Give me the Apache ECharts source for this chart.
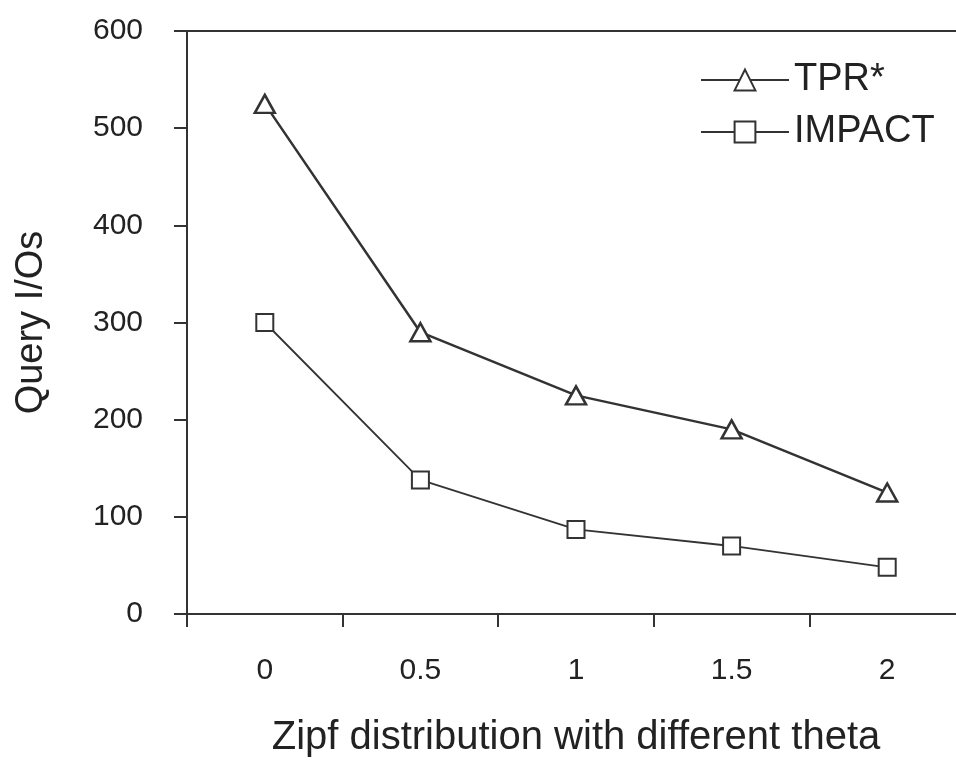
<!DOCTYPE html>
<html>
<head>
<meta charset="utf-8">
<script src="https://cdn.jsdelivr.net/npm/echarts@6/dist/echarts.min.js"></script>
<style>
  html, body { margin: 0; padding: 0; background: #fff; overflow: hidden; }
  /* container a bit wider than the window: the plot's right edge runs off the page */
  #main { width: 970px; height: 763px; }
</style>
</head>
<body>
<div id="main"></div>
<script>
var thetaList = ['0', '0.5', '1', '1.5', '2'];
var tprValues = [525, 290, 225, 190, 125];
var impactValues = [300, 138, 87, 70, 48];
var yTicks = [0, 100, 200, 300, 400, 500, 600];

var ink = '#333';
var font = 'Liberation Sans, Arial, sans-serif';

echarts.init(document.getElementById('main')).setOption({
    animation: false,
    backgroundColor: '#fff',
    textStyle: { fontFamily: font, color: '#222' },
    grid: {
        left: 187, top: 31, bottom: 145, right: 5,
        show: true, borderColor: ink, borderWidth: 2
    },
    legend: {
        left: 695, top: 55,
        orient: 'vertical',
        itemWidth: 88, itemHeight: 26, itemGap: 12,
        textStyle: { fontSize: 38, color: '#222', fontFamily: font, lineHeight: 40 },
        data: ['TPR*', 'IMPACT']
    },
    xAxis: {
        type: 'category',
        data: thetaList,
        boundaryGap: true,
        name: 'Zipf distribution with different theta',
        nameLocation: 'middle',
        nameGap: 104,
        nameTextStyle: { fontSize: 40, color: '#222', fontFamily: font },
        axisLine: { lineStyle: { color: ink, width: 2 } },
        axisTick: { show: true, length: 13, inside: false, lineStyle: { color: ink, width: 2 } },
        axisLabel: { fontSize: 30, color: '#222', margin: 42, fontFamily: font },
        splitLine: { show: false }
    },
    yAxis: {
        type: 'value',
        min: yTicks[0], max: yTicks[yTicks.length - 1], interval: 100,
        name: 'Query I/Os',
        nameLocation: 'middle',
        nameGap: 136,
        nameTextStyle: { fontSize: 38, color: '#222', fontFamily: font },
        axisLine: { show: true, lineStyle: { color: ink, width: 2 } },
        axisTick: { show: true, length: 13, lineStyle: { color: ink, width: 2 } },
        axisLabel: { fontSize: 30, color: '#222', margin: 44, fontFamily: font, padding: [0, 0, 8, 0] },
        splitLine: { show: false }
    },
    series: [
        {
            name: 'TPR*',
            type: 'line',
            data: tprValues,
            symbol: 'triangle',
            symbolSize: [20, 18],
            lineStyle: { color: ink, width: 2.5 },
            itemStyle: { color: '#fff', borderColor: ink, borderWidth: 2.5 },
            z: 3
        },
        {
            name: 'IMPACT',
            type: 'line',
            data: impactValues,
            symbol: 'rect',
            symbolSize: 17,
            lineStyle: { color: ink, width: 1.8 },
            itemStyle: { color: '#fff', borderColor: ink, borderWidth: 2 },
            z: 3
        }
    ]
});
</script>
</body>
</html>
